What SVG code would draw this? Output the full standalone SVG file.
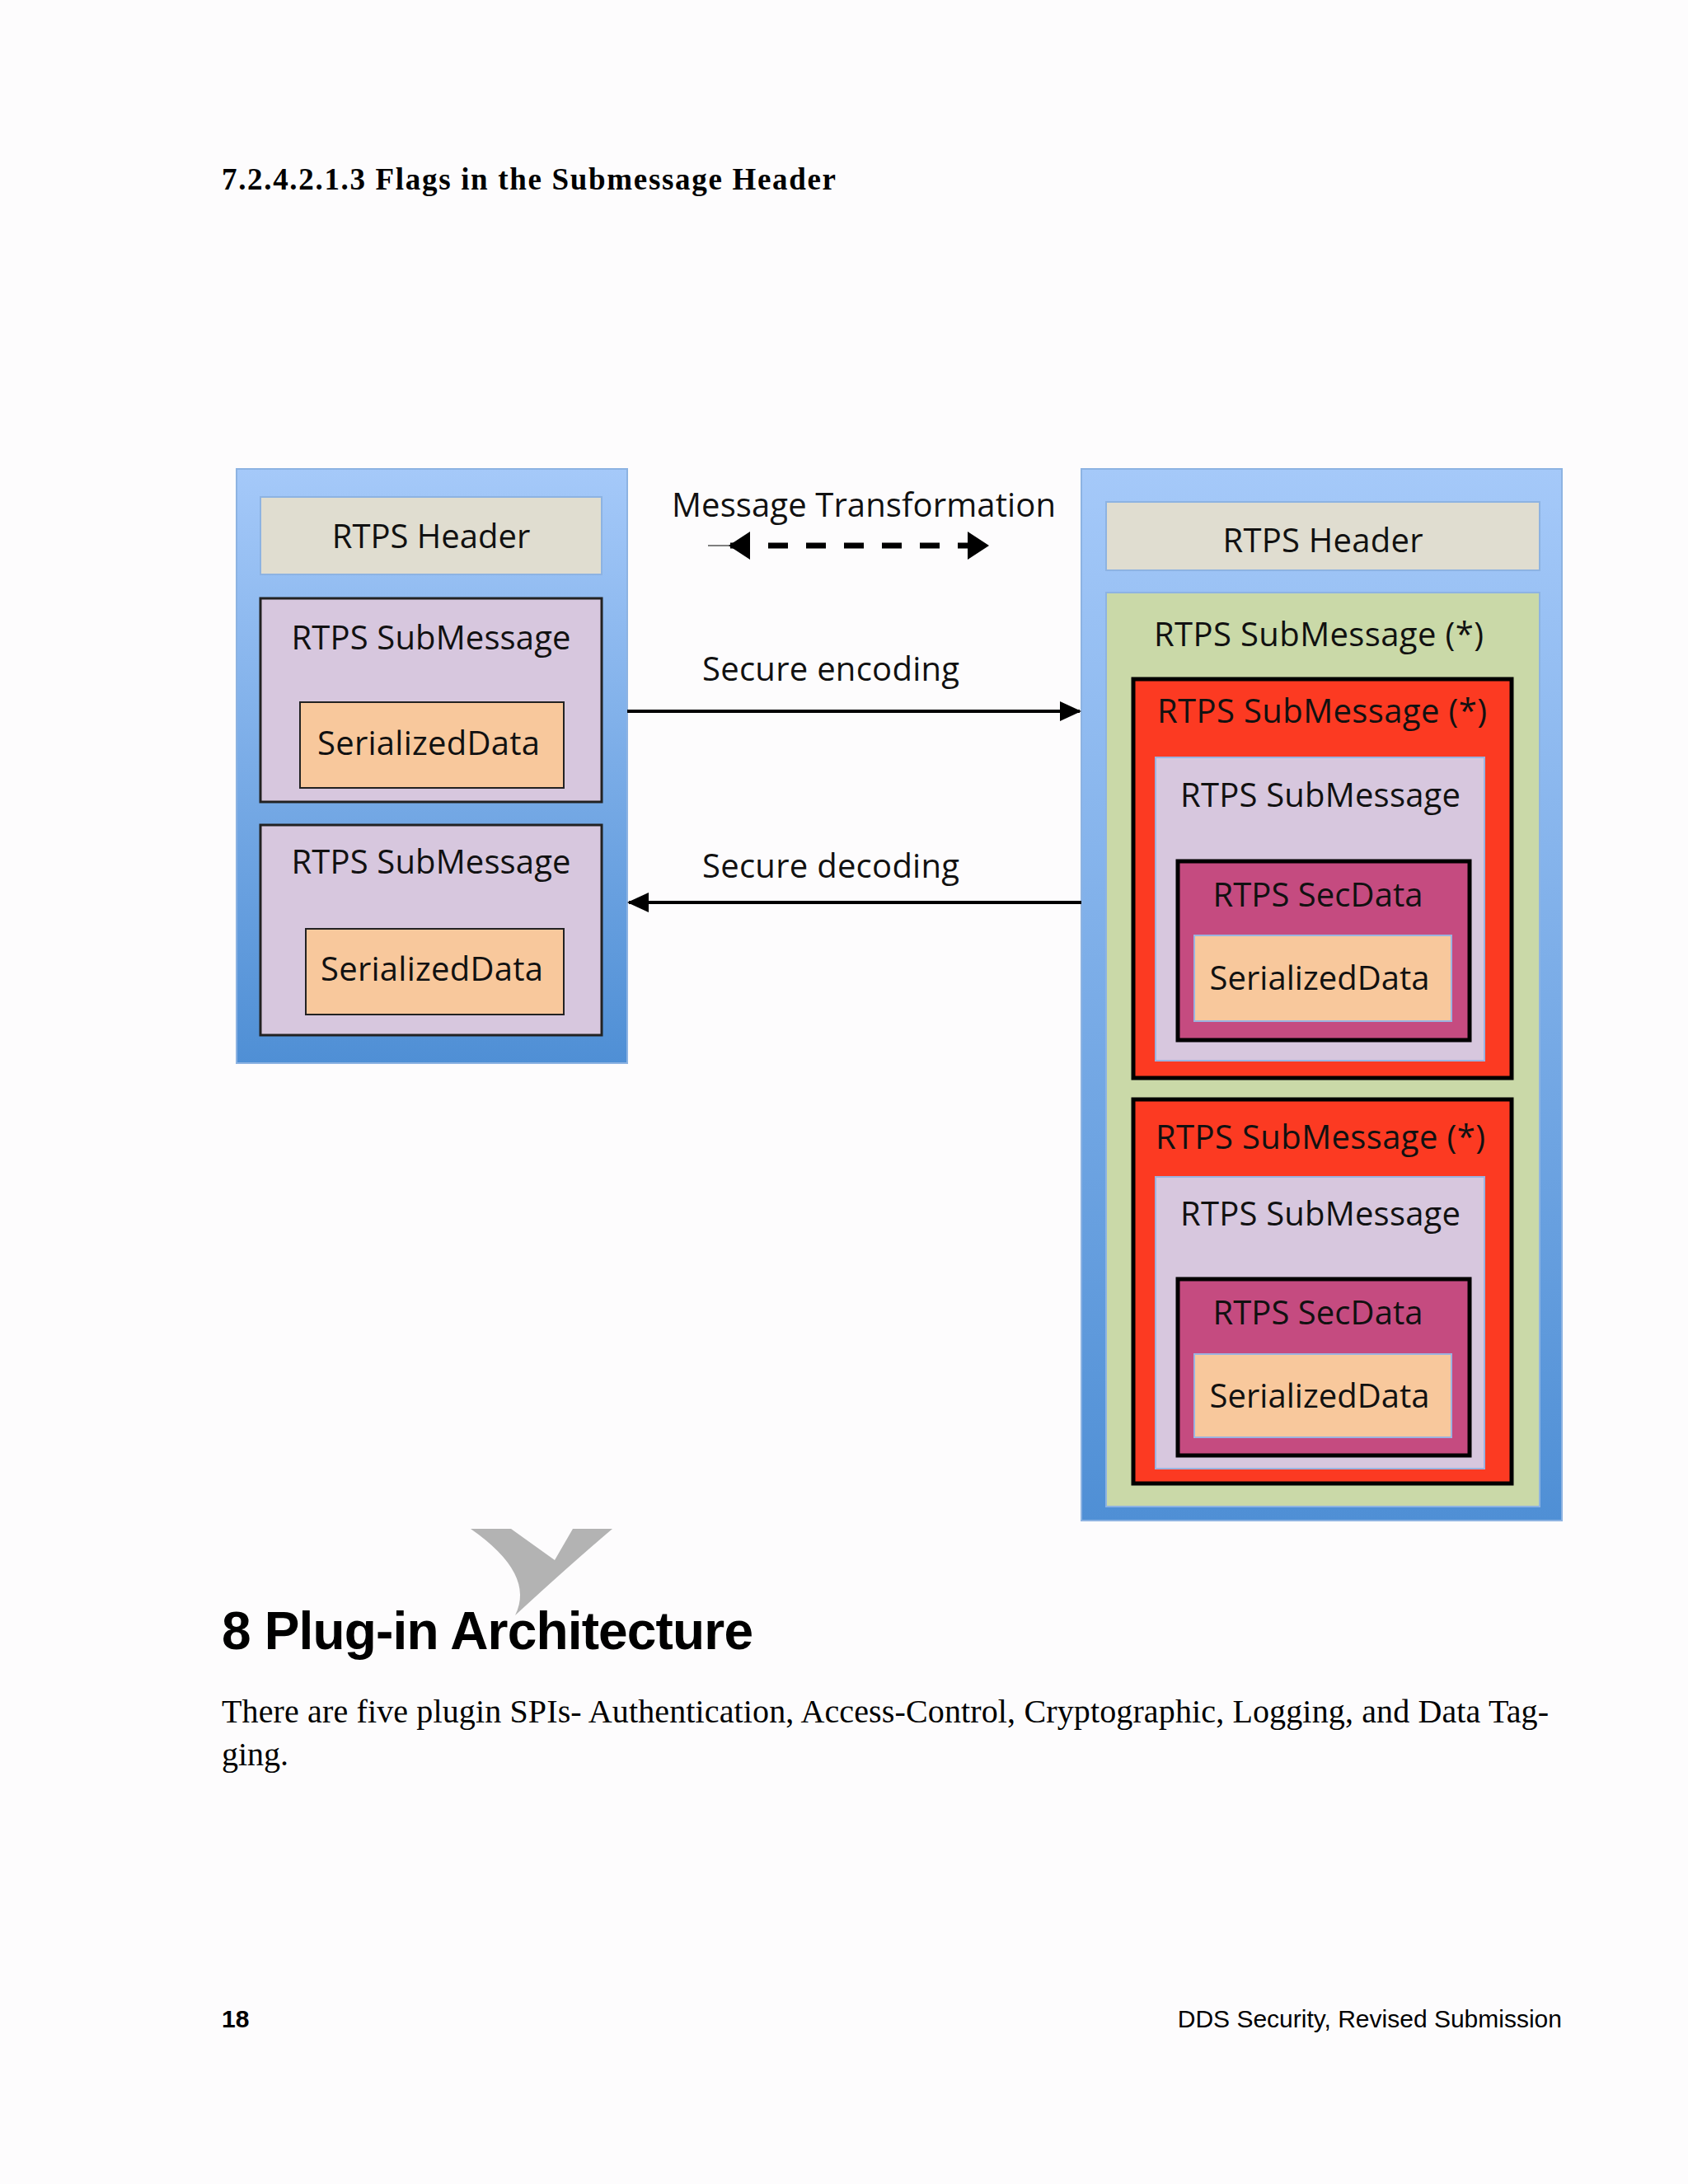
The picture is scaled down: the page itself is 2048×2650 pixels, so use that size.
<svg xmlns="http://www.w3.org/2000/svg" width="2048" height="2650" viewBox="0 0 2048 2650">
<defs>
<linearGradient id="blue" x1="0" y1="0" x2="0" y2="1"><stop offset="0" stop-color="#a5c9f9"/><stop offset="1" stop-color="#4f8fd5"/></linearGradient>
<marker id="ah" markerWidth="10" markerHeight="10" refX="9" refY="5" orient="auto" markerUnits="userSpaceOnUse" viewBox="0 0 10 10"><path d="M0,0 L10,5 L0,10 z" fill="#000"/></marker>
<marker id="ah2" markerWidth="26" markerHeight="34" refX="24" refY="17" orient="auto-start-reverse" markerUnits="userSpaceOnUse"><path d="M0,0 L26,17 L0,34 z" fill="#000"/></marker>
</defs>
<style>
.t{font-family:"Open Sans","Noto Sans","Liberation Sans",sans-serif;font-size:40px;fill:#111;text-anchor:middle}
.outer{fill:url(#blue);stroke:#8db3e2;stroke-width:2}
.hdr{fill:#e0ddd0;stroke:#8db3e2;stroke-width:2}
.lav{fill:#d7c7de;stroke:#222;stroke-width:3}
.lav2{fill:#d7c7de;stroke:#9bb3e0;stroke-width:2}
.sd{fill:#f8c89c;stroke:#222;stroke-width:2}
.sd2{fill:#f8c89c;stroke:#9bb3e0;stroke-width:2}
.grn{fill:#cad9a8;stroke:#8db3e2;stroke-width:2}
.red{fill:#fc3a22;stroke:#000;stroke-width:5}
.sec{fill:#c54b80;stroke:#000;stroke-width:5}
.ln{stroke:#000;stroke-width:4;fill:none}
</style>
<rect width="2048" height="2650" fill="#fdfcfd"/>
<text x="269" y="230" font-family="Liberation Serif,serif" font-weight="bold" font-size="37" textLength="745" fill="#000">7.2.4.2.1.3  Flags in the Submessage Header</text>

<g id="left">
<rect class="outer" x="287" y="569" width="474" height="721"/>
<g id="lhdr"><rect class="hdr" x="316" y="603" width="414" height="94"/><text class="t" x="523" y="665">RTPS Header</text></g>
<g id="lsub1"><rect class="lav" x="316" y="726" width="414" height="247"/><text class="t" x="523" y="788" textLength="339">RTPS SubMessage</text>
<rect class="sd" x="364" y="852" width="320" height="104"/><text class="t" x="520" y="916" textLength="270">SerializedData</text></g>
<g id="lsub2"><rect class="lav" x="316" y="1001" width="414" height="255"/><text class="t" x="523" y="1060" textLength="339">RTPS SubMessage</text>
<rect class="sd" x="371" y="1127" width="313" height="104"/><text class="t" x="524" y="1190" textLength="270">SerializedData</text></g>
</g>

<g id="right">
<rect class="outer" x="1312" y="569" width="583" height="1276"/>
<g id="rhdr"><rect class="hdr" x="1342" y="609" width="526" height="83"/><text class="t" x="1605" y="670" textLength="243">RTPS Header</text></g>
<g id="rsubs"><rect class="grn" x="1342" y="719" width="526" height="1109"/><text class="t" x="1600" y="784" textLength="400">RTPS SubMessage (*)</text></g>
<g id="red1"><rect class="red" x="1375" y="824" width="459" height="484"/><text class="t" x="1604" y="877" textLength="400">RTPS SubMessage (*)</text>
<rect class="lav2" x="1402" y="919" width="399" height="368"/><text class="t" x="1602" y="979" textLength="340">RTPS SubMessage</text>
<rect class="sec" x="1429" y="1045" width="354" height="217"/><text class="t" x="1599" y="1100" textLength="255">RTPS SecData</text>
<rect class="sd2" x="1449" y="1135" width="312" height="104"/><text class="t" x="1601" y="1201" textLength="267">SerializedData</text></g>
<g id="red2"><rect class="red" x="1375" y="1334" width="459" height="466"/><text class="t" x="1602" y="1394" textLength="400">RTPS SubMessage (*)</text>
<rect class="lav2" x="1402" y="1428" width="399" height="354"/><text class="t" x="1602" y="1487" textLength="340">RTPS SubMessage</text>
<rect class="sec" x="1429" y="1552" width="354" height="214"/><text class="t" x="1599" y="1607" textLength="255">RTPS SecData</text>
<rect class="sd2" x="1449" y="1643" width="312" height="101"/><text class="t" x="1601" y="1708" textLength="267">SerializedData</text></g>
</g>

<g id="connectors">
<text class="t" x="1048" y="627" textLength="466">Message Transformation</text>
<line x1="886" y1="662" x2="1198" y2="662" stroke="#000" stroke-width="7" stroke-dasharray="24,22" marker-start="url(#ah2)" marker-end="url(#ah2)"/>
<line x1="859" y1="662" x2="886" y2="662" stroke="#000" stroke-width="1"/>
<text class="t" x="1008" y="826" textLength="312">Secure encoding</text>
<line class="ln" x1="761" y1="863" x2="1310" y2="863"/>
<path d="M1312,863 L1286,851 L1286,875 z" fill="#000"/>
<text class="t" x="1008" y="1065" textLength="312">Secure decoding</text>
<line class="ln" x1="763" y1="1095" x2="1312" y2="1095"/>
<path d="M761,1095 L787,1083 L787,1107 z" fill="#000"/>
</g>

<path d="M571,1855 L620,1855 L673,1893 L695,1855 L743,1855 Q690,1900 625,1960 Q650,1910 571,1855 z" fill="#b3b3b3"/>
<text x="269" y="2001" font-family="Liberation Sans,sans-serif" font-weight="bold" font-size="64" textLength="645" fill="#000">8  Plug-in Architecture</text>
<text x="269" y="2090" font-family="Liberation Serif,serif" font-size="40" textLength="1610" fill="#000">There are five plugin SPIs- Authentication, Access-Control, Cryptographic, Logging, and Data Tag-</text>
<text x="269" y="2142" font-family="Liberation Serif,serif" font-size="40" fill="#000">ging.</text>
<text x="269" y="2460" font-family="Liberation Sans,sans-serif" font-weight="bold" font-size="30" fill="#000">18</text>
<text x="1895" y="2460" font-family="Liberation Sans,sans-serif" font-size="30" text-anchor="end" fill="#000">DDS Security, Revised Submission</text>
</svg>
